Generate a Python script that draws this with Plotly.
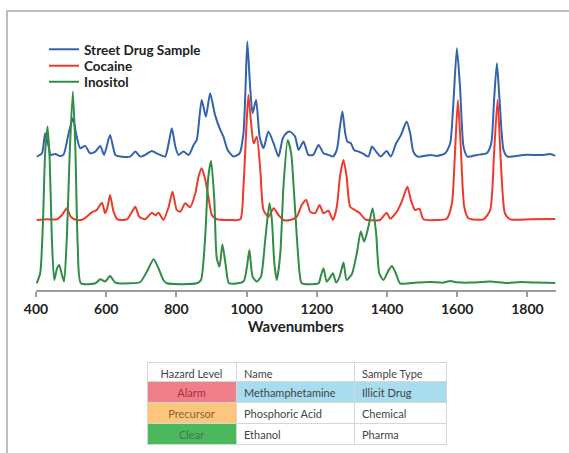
import plotly.graph_objects as go

# ---- Raman spectra (wavenumber in cm^-1, intensity in arbitrary units) ----
street_wn = [402, 417, 426, 436, 442, 455, 467, 478, 493, 505, 516, 526, 540, 554, 569, 583, 594,
             611, 626, 640, 668, 683, 697, 711, 730, 744, 754, 768, 778, 787, 797, 806, 820, 835,
             849, 858, 872, 884, 896, 910, 925, 934, 946, 963, 980, 991, 997, 1002, 1010, 1017,
             1027, 1037, 1048, 1062, 1077, 1091, 1103, 1115, 1124, 1138, 1148, 1162, 1176, 1190,
             1205, 1219, 1233, 1246, 1257, 1266, 1273, 1281, 1287, 1297, 1306, 1319, 1333, 1347,
             1357, 1369, 1382, 1399, 1411, 1426, 1440, 1456, 1466, 1475, 1487, 1523, 1542, 1566,
             1580, 1589, 1599, 1608, 1618, 1629, 1656, 1684, 1697, 1705, 1713, 1720, 1732, 1743,
             1789, 1846, 1865, 1880]
street_int = [0, 3.3, 23.3, 10, 1.7, 2.7, 0.7, 1.7, 23, 38.3, 20, 8.3, 10.7, 3.3, 5, 10.7, 1.7,
              21.7, 1.7, 0, 0, 5, 0, 1.7, 5.7, 3.3, 1.7, 0, 13.3, 28.3, 10, 1.7, 5, 1.7,
              11.7, 16.7, 56.7, 40, 63.3, 41.7, 26.7, 20, 6.7, 0, 3.3, 23.3, 70, 115, 70, 43.3,
              56.7, 20, 8.3, 25, 13.3, 0, 18.3, 24, 25, 20, 6.7, 15, 1.7, 1.7,
              11.7, 3.3, 1.7, 0, 6.7, 30, 45, 23.3, 15, 13.3, 6.7, 5, 2.7, 0,
              10, 5, 0, 5.7, 0, 13.3, 21.7, 35, 23.3, 5, 0, 1.7, 0.7, 3.3,
              13.3, 53.3, 108.3, 70, 10, 0, 1.7, 3.3, 13.3, 56.7, 93.3, 60, 6.7, 0,
              1.7, 1.7, 2.7, 0.7]

cocaine_wn = [402, 431, 460, 474, 488, 499, 516, 535, 547, 559, 573, 588, 597, 604, 611, 621, 632,
              659, 671, 683, 694, 711, 730, 740, 749, 763, 778, 789, 801, 811, 825, 839, 854, 863,
              872, 882, 891, 901, 915, 953, 982, 991, 999, 1005, 1012, 1020, 1029, 1039, 1048,
              1062, 1077, 1091, 1105, 1124, 1143, 1157, 1170, 1181, 1195, 1208, 1219, 1233, 1246,
              1257, 1266, 1276, 1285, 1295, 1309, 1323, 1338, 1380, 1399, 1409, 1428, 1442, 1458,
              1468, 1480, 1492, 1504, 1542, 1570, 1585, 1594, 1602, 1610, 1620, 1632, 1675, 1694,
              1705, 1715, 1724, 1736, 1751, 1808, 1880]
cocaine_int = [0, 0.7, 0.7, 5, 11.7, 3.3, 0, 0.7, 4, 7.7, 10, 17.3, 6.7, 13.3, 25, 8.3, 0.7,
               0.7, 6.7, 13.3, 3.3, 0.7, 7.3, 4.7, 7.3, 0, 13.3, 28.3, 10, 8.3, 16.7, 12.7, 26.7, 43.3,
               51.7, 40.7, 23.3, 5, 0.7, 0, 0.7, 33.3, 90, 125, 100, 76.7, 83.3, 50, 10,
               3.3, 11.7, 5, 0, 0, 3.3, 15, 20, 8.3, 6.7, 15, 6.7, 9.3, 0,
               13.3, 43.3, 60, 43.3, 13.3, 10, 6.7, 0.7, 0, 7.3, 1.3, 8.3, 18.3, 33.3,
               20, 10, 11.3, 0.7, 0, 1.3, 16.7, 70, 120, 73.3, 13.3, 1.7, 0.7, 10,
               66.7, 120, 60, 6.7, 0.7, 0.7, 1]

inositol_wn = [402, 412, 420, 426, 433, 439, 445, 452, 460, 466, 474, 480, 488, 496, 505, 512, 519,
               528, 569, 583, 597, 611, 626, 668, 697, 716, 735, 749, 763, 773, 858, 870, 882, 891,
               899, 908, 915, 923, 931, 941, 950, 991, 1001, 1008, 1017, 1029, 1041, 1053, 1065,
               1072, 1079, 1086, 1096, 1105, 1117, 1127, 1134, 1143, 1151, 1157, 1205, 1211, 1219,
               1228, 1236, 1246, 1255, 1265, 1276, 1285, 1300, 1314, 1325, 1335, 1347, 1359, 1369,
               1378, 1390, 1404, 1414, 1426, 1437, 1485, 1523, 1561, 1580, 1599, 1637, 1694, 1741,
               1779, 1827, 1880]
inositol_int = [0, 10, 63.3, 130, 156.7, 123.3, 46.7, 3.3, 15, 18.3, 8.3, 1.7, 46.7, 130, 191.7, 136.7, 36.7,
                0, 0, 4, 1.7, 7.3, 0.7, 0, 1.3, 11.7, 24, 15, 3.3, 0, 0, 3.3, 46.7, 106.7,
                122.3, 83.3, 25, 16.7, 39, 16.7, 0, 1.7, 16.7, 33.3, 6.7, 1.7, 6.7, 43.3, 80,
                63.3, 20, 3.3, 30, 96.7, 143.3, 130, 96.7, 46.7, 10, 0, 0, 6.7, 15,
                1.7, 5, 10, 0.7, 6.7, 20.7, 3.3, 9.3, 30, 51.7, 41.7, 56.7, 75, 50,
                10, 3.3, 12.7, 17.3, 9.3, 0, 0.7, 1.3, 0.7, 2.3, 1, 0.7, 1.7, 0.3,
                1.3, 0.7, 0.3]

series_names = ["Street Drug Sample", "Cocaine", "Inositol"]
series_colors = ["#3562ad", "#ee3a2c", "#2f8d46"]
# vertical stacking offsets of each trace's baseline
stack_offsets = [126.7, 63.3, 0.0]

# ---- result table ----
table_header = ["Hazard Level", "Name", "Sample Type"]
hazard_levels = ["Alarm", "Precursor", "Clear"]
substance_names = ["Methamphetamine", "Phosphoric Acid", "Ethanol"]
sample_types = ["Illicit Drug", "Chemical", "Pharma"]

W, H = 569, 453


def px_x(p):
    return p / W


def px_y(p):
    return 1 - p / H


fig = go.Figure()

legend_ids = ["legend", "legend2", "legend3"]
legend_rows = [49.5, 66, 82]   # vertical centre of each legend entry (px)

for wn, inten, name, color, off, lg in zip(
        [street_wn, cocaine_wn, inositol_wn],
        [street_int, cocaine_int, inositol_int],
        series_names, series_colors, stack_offsets, legend_ids):
    fig.add_trace(go.Scatter(
        x=wn, y=[v + off for v in inten], name=name, mode="lines",
        line=dict(color=color, width=2, shape="spline", smoothing=0.6),
        hoverinfo="skip", legend=lg,
    ))

fig.add_trace(go.Table(
    domain=dict(x=[px_x(147), px_x(446)], y=[px_y(445), px_y(362)]),
    columnwidth=[89, 118, 92],
    header=dict(
        values=table_header,
        fill_color="white",
        line=dict(color="#d6d6d6", width=1),
        align=["center", "left", "left"],
        font=dict(family="Lato", size=11, color="#444"),
        height=19,
    ),
    cells=dict(
        values=[hazard_levels, substance_names, sample_types],
        fill_color=[["#ef7f8a", "#fcc77c", "#4cb85d"],
                    ["#a8dcef", "white", "white"],
                    ["#a8dcef", "white", "white"]],
        line=dict(color="#d6d6d6", width=1),
        align=["center", "left", "left"],
        font=dict(family="Lato", size=11,
                  color=[["#a8323f", "#8a6236", "#3f7a4b"],
                         ["#444", "#444", "#444"],
                         ["#444", "#444", "#444"]]),
        height=21,
    ),
))

legend_style = dict(
    xanchor="left", yanchor="middle",
    bgcolor="rgba(0,0,0,0)", itemwidth=30,
    font=dict(family="Lato", size=13.5, color="#222", weight="bold"),
)

fig.update_layout(
    width=W, height=H,
    margin=dict(l=0, r=0, t=0, b=0),
    paper_bgcolor="white", plot_bgcolor="white",
    font=dict(family="Lato", color="#222"),
    showlegend=True,
    legend=dict(x=px_x(44), y=px_y(legend_rows[0]), **legend_style),
    legend2=dict(x=px_x(44), y=px_y(legend_rows[1]), **legend_style),
    legend3=dict(x=px_x(44), y=px_y(legend_rows[2]), **legend_style),
    xaxis=dict(
        domain=[px_x(36), px_x(555.5)],
        range=[400, 1880],
        tickvals=[400, 600, 800, 1000, 1200, 1400, 1600, 1800],
        showline=True, linecolor="#9c9c9c", linewidth=1.5,
        ticks="outside", ticklen=5, tickcolor="#9c9c9c", tickwidth=1.5,
        showgrid=False, zeroline=False,
        tickfont=dict(family="Lato", size=14, color="#222", weight="bold"),
        title=dict(text="Wavenumbers", standoff=6,
                   font=dict(family="Lato", size=15, color="#222", weight="bold")),
        automargin=False,
    ),
    yaxis=dict(
        domain=[px_y(290), px_y(30)],
        range=[-6.7, 253.3],
        visible=False,
    ),
    shapes=[dict(
        type="path", xref="paper", yref="paper",
        path=f"M {px_x(7)},0 L {px_x(7)},{px_y(11)} L 1,{px_y(11)}",
        line=dict(color="#a8a8a8", width=1.5),
    )],
)

fig.write_html("out.html")
